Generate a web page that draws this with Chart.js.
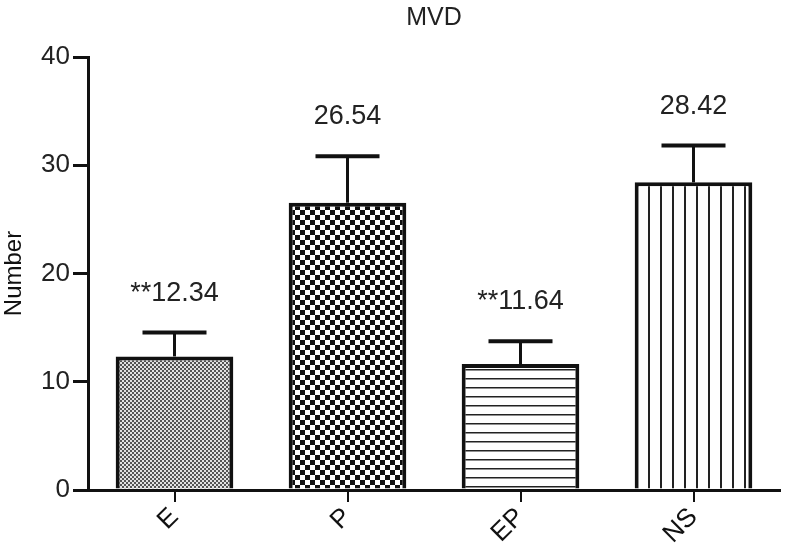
<!DOCTYPE html>
<html>
<head>
<meta charset="utf-8">
<script src="https://cdn.jsdelivr.net/npm/chart.js@4.4.0/dist/chart.umd.min.js"></script>
<style>
  html, body { margin: 0; padding: 0; background: #fff; }
  #wrap { width: 806px; height: 555px; }
</style>
</head>
<body>
<div id="wrap"><canvas id="chart" width="806" height="555"></canvas></div>
<script>
// chart data
var categories = ['E', 'P', 'EP', 'NS'];
var means = [12.34, 26.54, 11.64, 28.42];
var errors = [2.2, 4.3, 2.1, 3.4];
var valueLabels = ['**12.34', '26.54', '**11.64', '28.42'];
var yTicks = [0, 10, 20, 30, 40];

var FONT = '"Liberation Sans", Arial, sans-serif';

function makePattern(w, h, draw) {
  var c = document.createElement('canvas');
  c.width = w; c.height = h;
  var g = c.getContext('2d');
  g.fillStyle = '#fff';
  g.fillRect(0, 0, w, h);
  draw(g);
  return document.getElementById('chart').getContext('2d').createPattern(c, 'repeat');
}

// fine dotted checker
var patE = makePattern(4, 4, function(g) {
  g.fillStyle = '#e2e2e2';
  g.fillRect(0, 0, 4, 4);
  g.fillStyle = '#555';
  g.fillRect(0, 0, 2, 2);
  g.fillRect(2, 2, 2, 2);
});
// coarse checker
var patP = makePattern(10, 10, function(g) {
  g.fillStyle = '#111';
  g.fillRect(0, 0, 5, 5);
  g.fillRect(5, 5, 5, 5);
});
// horizontal lines
var patEP = makePattern(9, 9, function(g) {
  g.fillStyle = '#222';
  g.fillRect(0, 0, 9, 1.5);
});
// vertical lines
var patNS = makePattern(12, 12, function(g) {
  g.fillStyle = '#222';
  g.fillRect(0, 0, 2, 12);
});

var errorBarPlugin = {
  id: 'errorBars',
  afterDatasetsDraw: function(chart) {
    var ctx = chart.ctx;
    var meta = chart.getDatasetMeta(0);
    var y = chart.scales.y;
    ctx.save();
    ctx.strokeStyle = '#111';
    meta.data.forEach(function(bar, i) {
      var top = y.getPixelForValue(means[i] + errors[i]);
      ctx.lineWidth = 3;
      ctx.beginPath();
      ctx.moveTo(bar.x, bar.y);
      ctx.lineTo(bar.x, top);
      ctx.stroke();
      ctx.lineWidth = 4;
      ctx.beginPath();
      ctx.moveTo(bar.x - 32, top);
      ctx.lineTo(bar.x + 32, top);
      ctx.stroke();
      ctx.fillStyle = '#222';
      ctx.font = '27px ' + FONT;
      ctx.textAlign = 'center';
      ctx.textBaseline = 'alphabetic';
      ctx.fillText(valueLabels[i], bar.x, top - 32);
    });
    ctx.restore();
  }
};

var ctx = document.getElementById('chart').getContext('2d');
var chart = new Chart(ctx, {
  type: 'bar',
  data: {
    labels: categories,
    datasets: [{
      data: means,
      backgroundColor: [patE, patP, patEP, patNS],
      borderColor: '#111',
      borderWidth: 4,
      borderSkipped: 'bottom',
      barPercentage: 0.68,
      categoryPercentage: 1.0
    }]
  },
  plugins: [errorBarPlugin],
  options: {
    responsive: false,
    animation: false,
    layout: { padding: { top: 0, right: 26, left: 0, bottom: 0 } },
    plugins: {
      legend: { display: false },
      tooltip: { enabled: false },
      title: {
        display: true,
        fullSize: false,
        text: 'MVD',
        color: '#222',
        font: { family: FONT, size: 25, weight: 'normal' },
        padding: { top: 3, bottom: 24 }
      }
    },
    scales: {
      x: {
        offset: true,
        afterFit: function(scale) { scale.height = 65; },
        grid: { display: true, drawOnChartArea: false, drawTicks: true, tickLength: 12, color: '#111', lineWidth: 2, offset: false },
        border: { display: true, color: '#111', width: 3 },
        ticks: {
          color: '#111',
          minRotation: 45,
          maxRotation: 45,
          padding: 0,
          font: { family: FONT, size: 26 }
        }
      },
      y: {
        min: 0,
        max: 40,
        afterBuildTicks: function(scale) {
          scale.ticks = yTicks.map(function(v) { return { value: v }; });
        },
        afterFit: function(scale) { scale.width = 88; },
        grid: { display: true, drawOnChartArea: false, drawTicks: true, tickLength: 15, color: '#111', lineWidth: 3 },
        border: { display: true, color: '#111', width: 3 },
        title: {
          display: true,
          text: 'Number',
          color: '#111',
          padding: { top: 0, bottom: 0 },
          font: { family: FONT, size: 24 }
        },
        ticks: {
          color: '#222',
          padding: 3,
          font: { family: FONT, size: 26 }
        }
      }
    }
  }
});
</script>
</body>
</html>
